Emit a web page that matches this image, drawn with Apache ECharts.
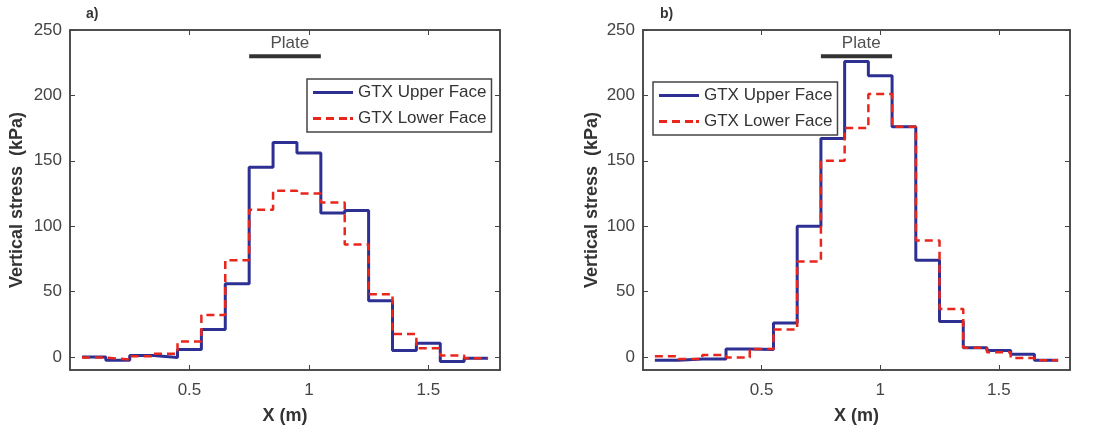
<!DOCTYPE html>
<html>
<head>
<meta charset="utf-8">
<script src="https://cdn.jsdelivr.net/npm/echarts@6/dist/echarts.min.js"></script>
<style>html,body{margin:0;padding:0;background:#fff}#c{width:1094px;height:430px}</style>
</head>
<body>
<div id="c"></div>
<script>
// Bin edges (m): each step starts at the edge, the last edge closes the final step
const binEdges = [0.05,0.15,0.25,0.35,0.45,0.55,0.65,0.75,0.85,0.95,1.05,1.15,1.25,1.35,1.45,1.55,1.65,1.75];
// Panel a) vertical stress (kPa) per bin
const upperA = [0,-2.5,1,-0.5,5.6,21,56,145,164,156,110,112,43,5,10.4,-3.5,-1];
const lowerA = [-0.5,-2,0.5,2.5,11.7,32,74,112.5,127,125,118,86,48,17.5,6.6,1,-1];
// Panel b)
const upperB = [-2.5,-1.5,-1.5,6,5.6,26,100,167,226,215,176,74,27,7,5,2,-2.5];
const lowerB = [0.5,-1.5,1.5,-0.5,6,21,73,150,175,201,176,89,36.7,7,3.6,-0.8,-2.5];
// Plate extent
const plateX = [0.75, 1.05];
const plateY = 230;
const plateLabelX = 0.92, plateLabelY = 240;
const yTicks = [0,50,100,150,200,250];
const xTicks = [0.5,1,1.5];
const seriesNames = ['GTX Upper Face','GTX Lower Face'];
const panelLabels = ['a)','b)'];

function steps(vals){
  const d = vals.map((v,i)=>[binEdges[i], v]);
  d.push([binEdges[binEdges.length-1], vals[vals.length-1]]);
  return d;
}

const FONT = 'Liberation Sans, Arial, sans-serif';
const AX = '#444';
const BLUE = '#2d3092';
const RED = '#e8261c';
const ICON_SOLID = 'path://M0,0h40v3h-40z';
const ICON_DASH = 'path://M0,0h8v3h-8z M13,0h8v3h-8z M26,0h8v3h-8z M37,0h3v3h-3z';

const grids = [
  {left:70, top:30, width:430, height:340, show:true, borderColor:AX, borderWidth:1.5, backgroundColor:'#fff'},
  {left:643, top:30, width:427, height:340, show:true, borderColor:AX, borderWidth:1.5, backgroundColor:'#fff'}
];

const xAxes = [], yAxes = [], series = [], legends = [], graphics = [];
const data = [[upperA, lowerA],[upperB, lowerB]];
const legendPos = [{left:307, top:79}, {left:653, top:82}];
const yNameGap = [44, 42];

grids.forEach((g, gi) => {
  const base = {
    type:'value', gridIndex: gi, min:0, max:1.8,
    splitLine:{show:false},
    axisLine:{show:true, onZero:false, lineStyle:{color:AX, width:1.5}},
  };
  xAxes.push(Object.assign({}, base, {
    position:'bottom',
    name:'X (m)', nameLocation:'middle', nameGap:37,
    nameTextStyle:{fontFamily:FONT, fontWeight:'bold', fontSize:18, color:'#333'},
    axisTick:{show:true, inside:true, length:5, customValues:xTicks, lineStyle:{color:AX}},
    axisLabel:{show:true, customValues:xTicks, margin:12, fontFamily:FONT, fontSize:17, color:'#444'}
  }));
  xAxes.push(Object.assign({}, base, {
    position:'top',
    axisTick:{show:true, inside:true, length:5, customValues:xTicks, lineStyle:{color:AX}},
    axisLabel:{show:false}
  }));
  const ybase = {
    type:'value', gridIndex: gi, min:-10, max:250,
    splitLine:{show:false},
    axisLine:{show:true, onZero:false, lineStyle:{color:AX, width:1.5}},
  };
  yAxes.push(Object.assign({}, ybase, {
    position:'left',
    name:'Vertical stress  (kPa)', nameLocation:'middle', nameGap:yNameGap[gi],
    nameTextStyle:{fontFamily:FONT, fontWeight:'bold', fontSize:18, color:'#333'},
    axisTick:{show:true, inside:true, length:5, customValues:yTicks, lineStyle:{color:AX}},
    axisLabel:{show:true, customValues:yTicks, margin:8, fontFamily:FONT, fontSize:17, color:'#444'}
  }));
  yAxes.push(Object.assign({}, ybase, {
    position:'right',
    axisTick:{show:true, inside:true, length:5, customValues:yTicks, lineStyle:{color:AX}},
    axisLabel:{show:false}
  }));

  const xi = gi*2, yi = gi*2;
  series.push({
    name: seriesNames[0], type:'line', xAxisIndex:xi, yAxisIndex:yi,
    step:'end', symbol:'none', data: steps(data[gi][0]),
    lineStyle:{color:BLUE, width:3}, itemStyle:{color:BLUE}, z:2
  });
  series.push({
    name: seriesNames[1], type:'line', xAxisIndex:xi, yAxisIndex:yi,
    step:'end', symbol:'none', data: steps(data[gi][1]),
    lineStyle:{color:RED, width:2.5, type:[8,5]}, itemStyle:{color:RED}, z:3
  });
  series.push({
    type:'line', xAxisIndex:xi, yAxisIndex:yi, symbol:'none', silent:true,
    data: plateX.map(x=>[x, plateY]),
    lineStyle:{color:'#333', width:4}, z:4
  });
  series.push({
    type:'scatter', xAxisIndex:xi, yAxisIndex:yi, symbolSize:0, silent:true,
    data:[[plateLabelX, plateLabelY]],
    label:{show:true, position:'inside', formatter:'Plate', fontFamily:FONT, fontSize:17, color:'#222'}
  });

  legends.push({
    left: legendPos[gi].left, top: legendPos[gi].top,
    orient:'vertical', itemWidth:40, itemHeight:3, itemGap:9,
    padding:[5,5,5,6],
    borderColor:'#444', borderWidth:1.5, backgroundColor:'#fff',
    textStyle:{fontFamily:FONT, fontSize:17, color:'#333'},
    data: [
      {name: seriesNames[0], icon: ICON_SOLID, itemStyle:{color:BLUE}},
      {name: seriesNames[1], icon: ICON_DASH, itemStyle:{color:RED}}
    ],
    selectedMode:false
  });

  graphics.push({
    type:'text', left: gi===0 ? 86 : 660, top: 7,
    style:{text: panelLabels[gi], font:'bold 14px '+FONT, fill:'#333'}
  });
});

const chart = echarts.init(document.getElementById('c'), null, {renderer:'canvas'});
chart.setOption({
  animation:false,
  backgroundColor:'#fff',
  grid: grids,
  xAxis: xAxes,
  yAxis: yAxes,
  legend: legends,
  series: series,
  graphic: graphics
});
</script>
</body>
</html>
